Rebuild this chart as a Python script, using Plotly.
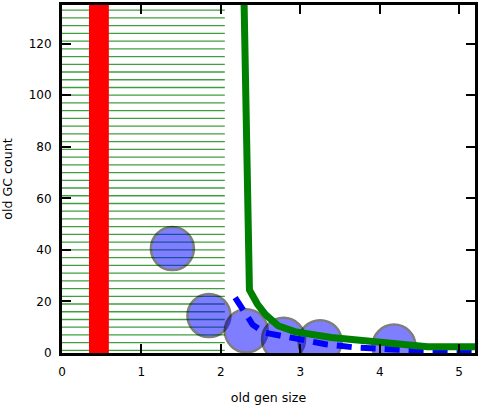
import plotly.graph_objects as go

# ---- data -------------------------------------------------------------
# horizontal reference lines (y positions) and their x extent
hline_y = [1, 4, 7, 10, 13, 16, 19, 22, 25, 28, 31, 34, 37, 40, 43, 46, 49,
           52, 55, 58, 61, 64, 67, 70, 73, 76, 79, 82, 85, 88, 91, 94, 97,
           100, 103, 106, 109, 112, 115, 118, 121, 124, 127, 130, 133]
hline_x_extent = [0.0, 2.05]

# red vertical span on x
red_span = [0.34, 0.59]

# scatter points (old gen size, old GC count)
pts_x = [1.39, 1.85, 2.32, 2.79, 3.25, 4.18]
pts_y = [40.5, 14.5, 8.6, 5.3, 4.4, 2.7]

# blue dashed curve
dash_x = [2.18, 2.30, 2.40, 2.55, 2.78, 2.95, 3.15, 3.32, 3.50, 3.70, 4.30, 4.70, 5.20]
dash_y = [21.5, 16.2, 11.0, 7.9, 6.5, 5.2, 4.4, 3.4, 2.8, 2.1, 1.2, 0.9, 0.7]

# thick green curve
green_x = [2.29, 2.36, 2.46, 2.56, 2.72, 2.93, 3.39, 3.72, 3.89, 4.14, 4.47, 4.60, 5.20]
green_y = [140, 24.5, 19.0, 15.0, 10.6, 8.3, 6.0, 4.9, 4.7, 4.0, 2.8, 2.4, 2.4]

x_ticks = [0, 1, 2, 3, 4, 5]
y_ticks = [0, 20, 40, 60, 80, 100, 120]
x_range = [0, 5.2]
y_range = [0, 135]

# ---- figure -----------------------------------------------------------
hx, hy = [], []
for yv in hline_y:
    hx += [hline_x_extent[0], hline_x_extent[1], None]
    hy += [yv, yv, None]

fig = go.Figure()

fig.add_trace(go.Scatter(
    x=hx, y=hy, mode="lines", hoverinfo="skip",
    line=dict(color="green", width=1.3), opacity=0.75, showlegend=False))

fig.add_trace(go.Scatter(
    x=pts_x, y=pts_y, mode="markers", showlegend=False,
    marker=dict(size=43, color="blue", opacity=0.5,
                line=dict(color="black", width=2.5))))

fig.add_trace(go.Scatter(
    x=dash_x, y=dash_y, mode="lines", showlegend=False,
    line=dict(color="blue", width=6, dash="15px,9px")))

fig.add_trace(go.Scatter(
    x=green_x, y=green_y, mode="lines", showlegend=False,
    line=dict(color="green", width=7)))

fig.add_shape(type="rect", xref="x", yref="paper",
              x0=red_span[0], x1=red_span[1], y0=0, y1=1,
              fillcolor="red", line=dict(width=0), layer="above")

axis_common = dict(
    ticks="inside", ticklen=9, tickwidth=1.5, tickcolor="black",
    showline=True, linecolor="black", linewidth=3, mirror="ticks",
    showgrid=False, zeroline=False,
    tickfont=dict(family="DejaVu Sans", size=12, color="black"),
)
title_font = dict(family="DejaVu Sans", size=12.6, color="black")

fig.update_xaxes(range=x_range, tickvals=x_ticks, ticklabelstandoff=6,
                 title=dict(text="old gen size", standoff=15, font=title_font),
                 **axis_common)
fig.update_yaxes(range=y_range, tickvals=y_ticks, ticklabelstandoff=5,
                 title=dict(text="old GC count", standoff=14, font=title_font),
                 **axis_common)

fig.update_layout(
    width=479, height=406,
    margin=dict(l=62, r=1, t=5, b=53),
    plot_bgcolor="white", paper_bgcolor="white",
    showlegend=False,
)

fig.write_html("out.html")
